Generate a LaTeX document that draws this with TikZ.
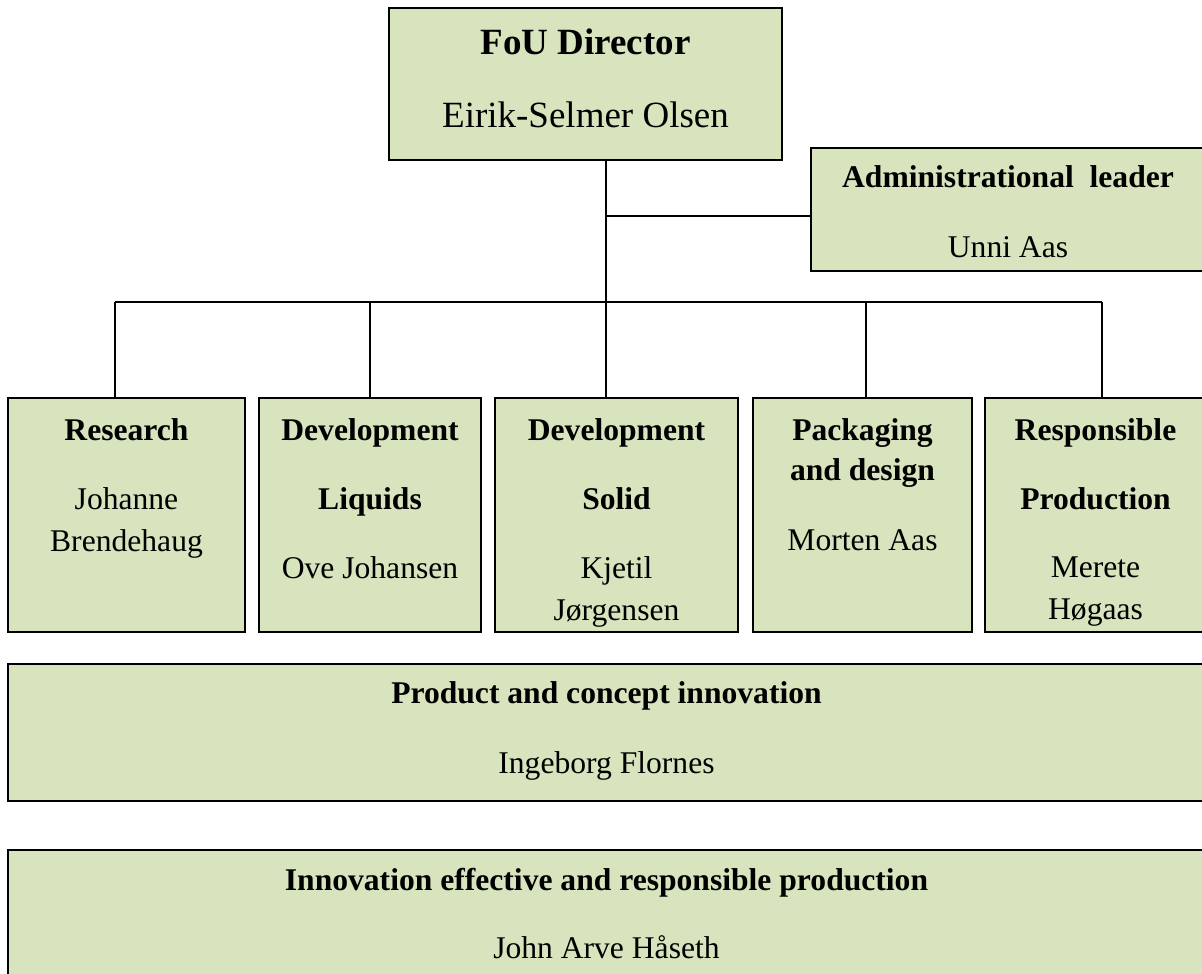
\documentclass[tikz,border=0pt]{standalone}
\usepackage{fontspec}
\setmainfont{Liberation Serif}
\usepackage{tikz}
\definecolor{boxgreen}{RGB}{215,228,189}

\begin{document}
\begin{tikzpicture}[x=0.5pt, y=-0.5pt,
    box/.style={draw, fill=boxgreen, line width=0.9pt, inner sep=0pt, outer sep=0pt,
      anchor=north west, align=flush center, text height=21pt,
      font=\fontsize{15.8pt}{21pt}\selectfont},
    link/.style={line width=0.75pt}]

    \useasboundingbox (0, 0) rectangle (1202, 973);
    \clip (0, 0) rectangle (1202, 973);

    \node [box, text width=196.5pt, text height=23.5pt, text depth=52.5pt,
      font=\fontsize{18.5pt}{22pt}\selectfont] (a) at (389, 8) {\textbf{FoU Director}\\[14.5pt] Eirik-Selmer Olsen};
    \node [box, text width=197pt, text height=20pt, text depth=41.5pt] (b) at (811, 148) {\textbf{Administrational\ \ leader}\\[13.5pt] Unni Aas};

    \node [box, text width=118.5pt, text depth=96pt] (c) at (8, 398) {\textbf{Research}\\[13.5pt] Johanne\\ Brendehaug};
    \node [box, text width=111pt, text depth=96pt] (d) at (259, 398) {\textbf{Development}\\[13.5pt] \textbf{Liquids}\\[13.5pt] Ove Johansen};
    \node [box, text width=121.5pt, text depth=96pt] (e) at (495, 398) {\textbf{Development}\\[13.5pt] \textbf{Solid}\\[13.5pt] Kjetil\\ Jørgensen};
    \node [box, text width=109.5pt, text depth=96pt] (f) at (753, 398) {\textbf{Packaging}\\[-1pt] \textbf{and design}\\[14pt] Morten Aas\hspace*{6.5pt}};
    \node [box, text width=110.5pt, text depth=96pt] (g) at (985, 398) {\textbf{Responsible}\\[13.5pt] \textbf{Production}\\[13pt] Merete\\ Høgaas};

    \node [box, text width=598.5pt, text height=19.5pt, text depth=49pt] (h) at (8, 664) {\textbf{Product and concept innovation}\\[14pt] Ingeborg Flornes};
    \node [box, text width=598.5pt, text height=20pt, text depth=48.5pt] (i) at (8, 850) {\textbf{Innovation effective and responsible production}\\[13pt] John Arve Håseth};

    \coordinate (j) at (606, 302);
    \coordinate (k) at (606, 216);
    \coordinate (l) at (115, 302);
    \coordinate (m) at (370, 302);
    \coordinate (n) at (866, 302);
    \coordinate (o) at (1102, 302);

    \draw [link] (j |- a.south) -- (j |- e.north);
    \draw [link] (k) -- (k -| b.west);
    \draw [link] (l) -- (o);
    \draw [link] (l) -- (l |- c.north);
    \draw [link] (m) -- (m |- d.north);
    \draw [link] (n) -- (n |- f.north);
    \draw [link] (o) -- (o |- g.north);

  \end{tikzpicture}
\end{document}
